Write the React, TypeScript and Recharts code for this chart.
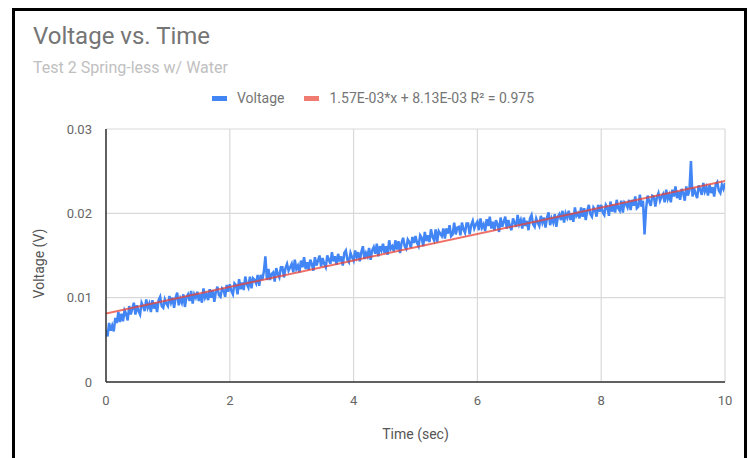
import React from 'react';
import { LineChart, Line, XAxis, YAxis, CartesianGrid } from 'recharts';

const SAMPLE_INTERVAL_SEC = 0.025;

// Voltage readings (V), one every 0.025 s from 0 to 10 s
const voltage: number[] = [
  // 0 s
  0.0062, 0.0054, 0.0070, 0.0061, 0.0067, 0.0060, 0.0076, 0.0070, 0.0083, 0.0071,
  0.0081, 0.0072, 0.0085, 0.0081, 0.0073, 0.0090, 0.0080, 0.0087, 0.0094, 0.0080,
  0.0091, 0.0084, 0.0080, 0.0094, 0.0090, 0.0084, 0.0098, 0.0088, 0.0093, 0.0083,
  0.0097, 0.0087, 0.0094, 0.0083, 0.0097, 0.0101, 0.0090, 0.0088, 0.0098, 0.0093,
  // 1 s
  0.0090, 0.0102, 0.0094, 0.0100, 0.0088, 0.0100, 0.0106, 0.0091, 0.0099, 0.0094,
  0.0104, 0.0089, 0.0101, 0.0104, 0.0096, 0.0108, 0.0093, 0.0104, 0.0100, 0.0107,
  0.0096, 0.0104, 0.0094, 0.0111, 0.0100, 0.0104, 0.0097, 0.0110, 0.0100, 0.0109,
  0.0095, 0.0107, 0.0113, 0.0103, 0.0101, 0.0111, 0.0109, 0.0101, 0.0115, 0.0107,
  // 2 s
  0.0116, 0.0108, 0.0104, 0.0117, 0.0115, 0.0104, 0.0122, 0.0110, 0.0118, 0.0109,
  0.0125, 0.0116, 0.0112, 0.0125, 0.0111, 0.0123, 0.0121, 0.0117, 0.0127, 0.0114,
  0.0127, 0.0121, 0.0131, 0.0149, 0.0121, 0.0134, 0.0121, 0.0128, 0.0130, 0.0119,
  0.0135, 0.0128, 0.0124, 0.0136, 0.0136, 0.0124, 0.0135, 0.0140, 0.0132, 0.0136,
  // 3 s
  0.0140, 0.0130, 0.0145, 0.0134, 0.0138, 0.0130, 0.0144, 0.0136, 0.0148, 0.0134,
  0.0142, 0.0133, 0.0145, 0.0140, 0.0132, 0.0148, 0.0138, 0.0144, 0.0150, 0.0137,
  0.0147, 0.0140, 0.0136, 0.0150, 0.0145, 0.0140, 0.0154, 0.0143, 0.0149, 0.0139,
  0.0152, 0.0143, 0.0149, 0.0138, 0.0153, 0.0156, 0.0145, 0.0142, 0.0153, 0.0148,
  // 4 s
  0.0144, 0.0156, 0.0148, 0.0154, 0.0143, 0.0154, 0.0161, 0.0146, 0.0153, 0.0149,
  0.0159, 0.0145, 0.0156, 0.0160, 0.0152, 0.0164, 0.0149, 0.0161, 0.0156, 0.0164,
  0.0153, 0.0161, 0.0151, 0.0168, 0.0158, 0.0161, 0.0155, 0.0168, 0.0157, 0.0167,
  0.0153, 0.0165, 0.0171, 0.0161, 0.0158, 0.0169, 0.0166, 0.0159, 0.0172, 0.0165,
  // 5 s
  0.0173, 0.0165, 0.0161, 0.0174, 0.0171, 0.0161, 0.0178, 0.0167, 0.0174, 0.0166,
  0.0181, 0.0172, 0.0168, 0.0181, 0.0166, 0.0179, 0.0176, 0.0173, 0.0182, 0.0170,
  0.0182, 0.0176, 0.0186, 0.0173, 0.0175, 0.0189, 0.0175, 0.0183, 0.0184, 0.0174,
  0.0189, 0.0181, 0.0177, 0.0188, 0.0188, 0.0175, 0.0186, 0.0191, 0.0182, 0.0187,
  // 6 s
  0.0190, 0.0180, 0.0194, 0.0183, 0.0187, 0.0179, 0.0193, 0.0185, 0.0196, 0.0182,
  0.0190, 0.0180, 0.0192, 0.0187, 0.0178, 0.0195, 0.0184, 0.0190, 0.0196, 0.0182,
  0.0192, 0.0185, 0.0180, 0.0194, 0.0189, 0.0184, 0.0198, 0.0187, 0.0192, 0.0182,
  0.0195, 0.0185, 0.0191, 0.0180, 0.0194, 0.0198, 0.0187, 0.0184, 0.0194, 0.0189,
  // 7 s
  0.0185, 0.0197, 0.0189, 0.0195, 0.0183, 0.0195, 0.0201, 0.0186, 0.0194, 0.0189,
  0.0199, 0.0184, 0.0196, 0.0199, 0.0192, 0.0203, 0.0189, 0.0200, 0.0195, 0.0203,
  0.0192, 0.0200, 0.0190, 0.0207, 0.0197, 0.0200, 0.0194, 0.0207, 0.0196, 0.0206,
  0.0192, 0.0203, 0.0210, 0.0199, 0.0196, 0.0207, 0.0204, 0.0196, 0.0210, 0.0202,
  // 8 s
  0.0210, 0.0201, 0.0198, 0.0210, 0.0207, 0.0197, 0.0214, 0.0202, 0.0210, 0.0201,
  0.0216, 0.0206, 0.0203, 0.0215, 0.0201, 0.0213, 0.0211, 0.0207, 0.0216, 0.0204,
  0.0216, 0.0209, 0.0220, 0.0206, 0.0208, 0.0222, 0.0208, 0.0215, 0.0175, 0.0206,
  0.0221, 0.0214, 0.0209, 0.0221, 0.0220, 0.0208, 0.0219, 0.0224, 0.0215, 0.0220,
  // 9 s
  0.0223, 0.0213, 0.0228, 0.0217, 0.0222, 0.0213, 0.0228, 0.0220, 0.0232, 0.0218,
  0.0226, 0.0216, 0.0229, 0.0224, 0.0215, 0.0232, 0.0221, 0.0227, 0.0262, 0.0220,
  0.0230, 0.0223, 0.0218, 0.0233, 0.0228, 0.0222, 0.0236, 0.0226, 0.0231, 0.0221,
  0.0234, 0.0224, 0.0231, 0.0220, 0.0234, 0.0237, 0.0227, 0.0224, 0.0234, 0.0229,
  // 10 s
  0.0236,
];

const TREND_SLOPE = 1.57e-3;
const TREND_INTERCEPT = 8.13e-3;
const trendTimes = [0, 10];

const xTicks = [0, 2, 4, 6, 8, 10];
const yTicks = [0, 0.01, 0.02, 0.03];

const seriesNames = ['Voltage', '1.57E-03*x + 8.13E-03 R\u00B2 = 0.975'];

const voltageData = voltage.map((v, i) => ({ t: +(i * SAMPLE_INTERVAL_SEC).toFixed(3), v }));
const trendData = trendTimes.map((t) => ({ t, v: TREND_SLOPE * t + TREND_INTERCEPT }));

const FONT = 'Roboto, "Noto Sans", Arial, sans-serif';
const BLUE = '#4285f4';
const RED = '#ea4335';

export default function App() {
  return (
    <div
      style={{
        position: 'absolute',
        left: 0,
        top: 0,
        width: 751,
        height: 458,
        background: '#fff',
        overflow: 'hidden',
        fontFamily: FONT,
      }}
    >
      <div
        style={{
          position: 'absolute',
          left: 12,
          top: 8,
          width: 735,
          height: 480,
          border: '3px solid #000',
          boxSizing: 'border-box',
        }}
      />
      <div
        style={{
          position: 'absolute',
          left: 33,
          top: 24,
          fontSize: 24,
          lineHeight: '24px',
          color: '#757575',
          whiteSpace: 'nowrap',
        }}
      >
        Voltage vs. Time
      </div>
      <div
        style={{
          position: 'absolute',
          left: 33,
          top: 60,
          fontSize: 16,
          lineHeight: '16px',
          color: '#c0c0c0',
          whiteSpace: 'nowrap',
        }}
      >
        Test 2 Spring-less w/ Water
      </div>
      <div
        style={{
          position: 'absolute',
          left: 212,
          top: 91,
          display: 'flex',
          alignItems: 'center',
          fontSize: 14,
          lineHeight: '14px',
          color: '#757575',
          whiteSpace: 'nowrap',
        }}
      >
        <span style={{ display: 'inline-block', width: 15, height: 5, background: BLUE, marginRight: 10 }} />
        <span style={{ marginRight: 20 }}>{seriesNames[0]}</span>
        <span
          style={{ display: 'inline-block', width: 15, height: 5, background: RED, opacity: 0.7, marginRight: 10 }}
        />
        <span>{seriesNames[1]}</span>
      </div>
      <div style={{ position: 'absolute', left: 0, top: 0 }}>
        <LineChart width={751} height={458} margin={{ top: 129, right: 26, bottom: 12, left: 0 }}>
          <CartesianGrid stroke="#d9d9d9" strokeWidth={1.2} />
          <XAxis
            dataKey="t"
            type="number"
            domain={[0, 10]}
            ticks={xTicks}
            allowDataOverflow
            height={64}
            stroke="#333"
            strokeWidth={1.5}
            tickLine={false}
            tickMargin={8}
            tick={{ fill: '#666', fontSize: 13, fontFamily: FONT }}
            label={{
              content: (p: any) => {
                const vb = p.viewBox;
                return (
                  <text
                    x={vb.x + vb.width / 2}
                    y={vb.y + 57}
                    textAnchor="middle"
                    fill="#555"
                    fontSize={14}
                    fontFamily={FONT}
                  >
                    Time (sec)
                  </text>
                );
              },
            }}
          />
          <YAxis
            type="number"
            domain={[0, 0.03]}
            ticks={yTicks}
            allowDataOverflow
            width={106}
            stroke="#333"
            strokeWidth={1.5}
            tickLine={false}
            tickMargin={8}
            tickFormatter={(v: number) => (v === 0 ? '0' : v.toFixed(2))}
            tick={{ fill: '#666', fontSize: 13, fontFamily: FONT }}
            label={{
              content: (p: any) => {
                const vb = p.viewBox;
                const x = vb.x + 44;
                const y = vb.y + vb.height / 2 + 8;
                return (
                  <text
                    x={x}
                    y={y}
                    transform={`rotate(-90 ${x} ${y})`}
                    textAnchor="middle"
                    fill="#555"
                    fontSize={14}
                    fontFamily={FONT}
                  >
                    Voltage (V)
                  </text>
                );
              },
            }}
          />
          <Line
            data={voltageData}
            dataKey="v"
            name={seriesNames[0]}
            stroke={BLUE}
            strokeWidth={2.5}
            dot={false}
            isAnimationActive={false}
          />
          <Line
            data={trendData}
            dataKey="v"
            name={seriesNames[1]}
            stroke={RED}
            strokeOpacity={0.75}
            strokeWidth={2}
            dot={false}
            isAnimationActive={false}
          />
        </LineChart>
      </div>
    </div>
  );
}
